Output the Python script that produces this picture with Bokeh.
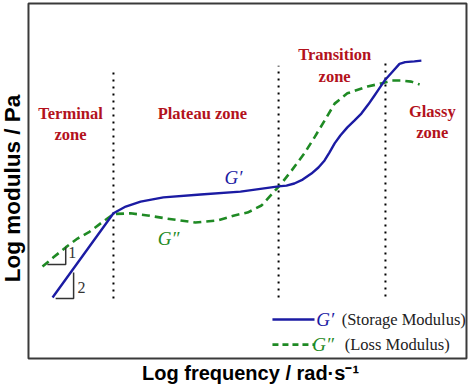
import math
from bokeh.plotting import figure
from bokeh.models import Range1d, BoxAnnotation
from bokeh.core.properties import value
from bokeh.embed import file_html
from bokeh.resources import INLINE

# ---- data (arbitrary log units) ----
freq_storage = [0.55, 1.94, 2.22, 2.56, 3.08, 3.93, 4.84, 5.71, 5.89, 6.07, 6.26, 6.46, 6.62, 6.76, 6.87, 6.99,
                7.12, 7.28, 7.44, 7.60, 7.76, 7.90, 8.01, 8.13, 8.31, 8.47, 8.60, 8.81, 8.97]
mod_storage = [1.72, 4.09, 4.28, 4.42, 4.54, 4.62, 4.70, 4.85, 4.87, 4.93, 5.04, 5.21, 5.38, 5.58, 5.80, 6.06,
               6.28, 6.51, 6.70, 6.90, 7.16, 7.41, 7.61, 7.83, 8.08, 8.30, 8.35, 8.37, 8.39]

freq_loss = [0.32, 0.57, 0.85, 1.12, 1.37, 1.64, 1.94, 2.33, 2.72, 3.17, 3.81, 4.32, 4.70, 5.00, 5.32, 5.57, 5.73, 6.01, 6.30, 6.53, 6.76, 6.99, 7.28, 7.74, 8.06, 8.29, 8.52, 8.74, 8.93]
mod_loss = [2.59, 2.85, 3.13, 3.38, 3.55, 3.80, 4.07, 4.09, 4.03, 3.94, 3.83, 3.89, 4.03, 4.11, 4.31, 4.65, 4.86, 5.30, 5.78, 6.23, 6.70, 7.18, 7.47, 7.66, 7.75, 7.83, 7.83, 7.80, 7.72]

zone_bound_x = [1.94, 5.71, 8.15]
zone_bound_top = [8.20, 8.25, 8.31]
zone_bound_bottom = [1.69, 1.72, 1.75]

zone_text = ["Terminal", "zone", "Plateau zone", "Transition", "zone", "Glassy", "zone"]
zone_text_x = [0.96, 0.96, 3.97, 6.99, 6.99, 9.22, 9.22]
zone_text_y = [6.90, 6.31, 6.90, 8.56, 7.94, 6.96, 6.37]

slope_xs = [[0.43, 0.85, 0.85], [0.62, 1.03, 1.03]]
slope_ys = [[2.65, 2.65, 3.13], [1.69, 1.69, 2.42]]
slope_text = ["1", "2"]
slope_text_x = [1.00, 1.21]
slope_text_y = [2.99, 2.00]

legend_line_x = [5.57, 6.53]
legend_y = [1.10, 0.39]

x_title = "Log frequency / rad\u00b7s\u207b\u00b9"
y_title = "Log modulus / Pa"

BLUE = "#1b1ba3"
GREEN = "#1f8a24"
RED = "#b3121c"
SERIF = value("Liberation Serif")

# the whole canvas is the drawing frame; the visible plot box is drawn as an annotation
p = figure(width=474, height=387, output_backend="svg", toolbar_location=None,
           x_range=Range1d(-0.639, 10.183), y_range=Range1d(-0.817, 10.085),
           x_axis_location=None, y_axis_location=None,
           min_border=0, min_border_left=0, min_border_right=0,
           min_border_top=0, min_border_bottom=0)
p.grid.visible = False
p.outline_line_color = None
p.background_fill_color = "white"
p.border_fill_color = "white"

p.add_layout(BoxAnnotation(left=0, right=10, bottom=0, top=10.0,
                           fill_color=None, fill_alpha=0,
                           line_color="#3a3a3a", line_width=2, line_alpha=1))

# zone boundaries
p.segment(x0=zone_bound_x, y0=zone_bound_bottom, x1=zone_bound_x, y1=zone_bound_top,
          line_color="black", line_width=2, line_dash="2 5")

# curves
p.line(freq_loss, mod_loss, line_color=GREEN, line_width=2.6, line_dash="8 5", line_join="round")
p.line(freq_storage, mod_storage, line_color=BLUE, line_width=2.4, line_join="round")

# slope triangles
p.multi_line(xs=slope_xs, ys=slope_ys, line_color="#333333", line_width=1.5)
p.text(x=slope_text_x, y=slope_text_y, text=slope_text, text_font=SERIF,
       text_font_size="16px", text_color="#333333", text_align="center", text_baseline="middle")

# zone labels
p.text(x=zone_text_x, y=zone_text_y, text=zone_text, text_font=SERIF, text_font_style="bold",
       text_font_size="16.5px", text_color=RED, text_align="center", text_baseline="middle")

# curve labels
p.text(x=[4.68], y=[5.10], text=["G\u2032"], text_font=SERIF, text_font_style="italic",
       text_font_size="19px", text_color=BLUE, text_align="center", text_baseline="middle")
p.text(x=[3.20], y=[3.38], text=["G\u2033"], text_font=SERIF, text_font_style="italic",
       text_font_size="19px", text_color=GREEN, text_align="center", text_baseline="middle")

# legend
p.line(legend_line_x, [legend_y[0]] * 2, line_color=BLUE, line_width=2.4)
p.line(legend_line_x, [legend_y[1]] * 2, line_color=GREEN, line_width=2.6, line_dash="6 4")
p.text(x=[6.57, 6.48], y=legend_y, text=["G\u2032", "G\u2033"], text_font=SERIF,
       text_font_style="italic", text_font_size="19px", text_color=[BLUE, GREEN],
       text_align="left", text_baseline="middle")
p.text(x=[7.15, 7.22], y=legend_y, text=["(Storage Modulus)", "(Loss Modulus)"], text_font=SERIF,
       text_font_size="16.5px", text_color="#222222", text_align="left", text_baseline="middle")

# axis titles
p.text(x=[5.07], y=[-0.40], text=[x_title], text_font=value("Liberation Sans"),
       text_font_style="bold", text_font_size="20px", text_color="black",
       text_align="center", text_baseline="middle")
p.text(x=[-0.365], y=[4.79], text=[y_title], angle=math.pi / 2, text_font=value("Liberation Sans"),
       text_font_style="bold", text_font_size="22.5px", text_color="black",
       text_align="center", text_baseline="middle")

open("out.html", "w").write(file_html(p, INLINE))
